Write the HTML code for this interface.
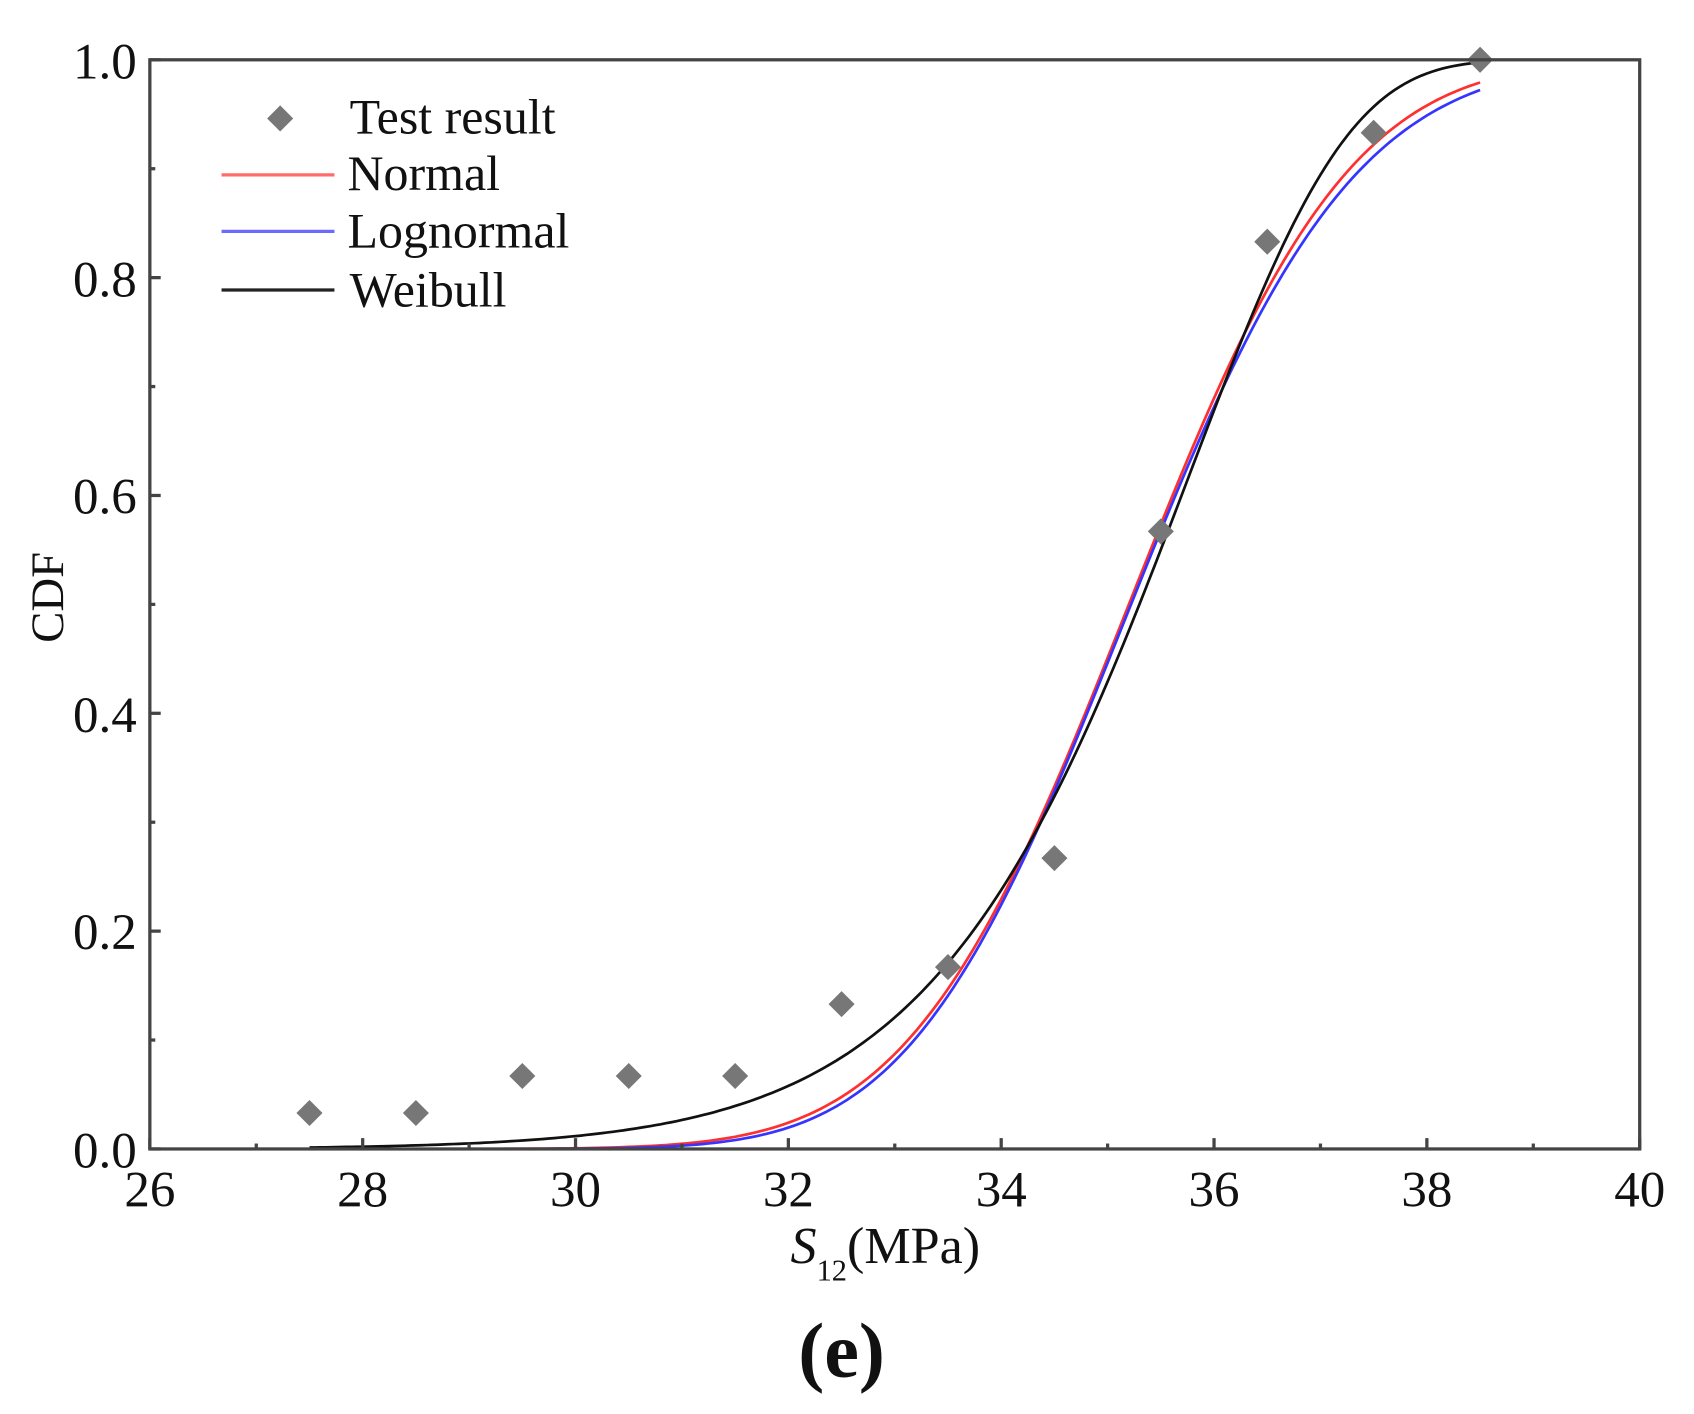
<!DOCTYPE html>
<html><head><meta charset="utf-8"><style>
html,body{margin:0;padding:0;background:#fff;}
svg{display:block;}
text{font-family:"Liberation Serif",serif;fill:#111;}
</style></head><body>
<svg id="s" width="1694" height="1414" viewBox="0 0 1560 1302" xmlns="http://www.w3.org/2000/svg">
<g id="curves"></g>
<g id="pts"></g>
<rect x="138" y="55" width="1372" height="1003" fill="none" stroke="#444" stroke-width="3"/>
<g id="ticks" stroke="#444" stroke-width="3"></g>
<g font-size="47" text-anchor="end">
<text x="126" y="72">1.0</text><text x="126" y="273">0.8</text><text x="126" y="473">0.6</text>
<text x="126" y="674">0.4</text><text x="126" y="874">0.2</text><text x="126" y="1075">0.0</text>
</g>
<g font-size="47" text-anchor="middle">
<text x="138" y="1111">26</text><text x="334" y="1111">28</text><text x="530" y="1111">30</text>
<text x="726" y="1111">32</text><text x="922" y="1111">34</text><text x="1118" y="1111">36</text>
<text x="1314" y="1111">38</text><text x="1510" y="1111">40</text>
</g>
<text x="58" y="550" font-size="43" text-anchor="middle" transform="rotate(-90 58 550)">CDF</text>
<text x="728" y="1163" font-size="48"><tspan font-style="italic">S</tspan><tspan font-size="28" dy="16">12</tspan><tspan dy="-16">(MPa)</tspan></text>
<text x="775" y="1268" font-size="72" font-weight="bold" text-anchor="middle">(e)</text>
<path d="M258 97 L270 109 L258 121 L246 109Z" fill="#777"/>
<text x="322" y="123" font-size="46">Test result</text>
<line x1="204" y1="161" x2="308" y2="161" stroke="#ff6a6a" stroke-width="3"/>
<text x="320" y="175" font-size="46">Normal</text>
<line x1="204" y1="213" x2="308" y2="213" stroke="#6a6aff" stroke-width="3"/>
<text x="320" y="228" font-size="46">Lognormal</text>
<line x1="204" y1="267" x2="308" y2="267" stroke="#222" stroke-width="3"/>
<text x="322" y="282" font-size="46">Weibull</text>
</svg>
<script>
var X=function(v){return 138+(v-26)*98;},Y=function(p){return 1058-p*1003;};
function erf(x){var s=x<0?-1:1;x=Math.abs(x);var t=1/(1+0.3275911*x);var y=1-((((1.061405429*t-1.453152027)*t+1.421413741)*t-0.284496736)*t+0.254829592)*t*Math.exp(-x*x);return s*y;}
function ncdf(z){return 0.5*(1+erf(z/Math.SQRT2));}
var fns=[[function(x){return ncdf((x-35.2)/1.62);},"#ff3030"],
[function(x){return ncdf((Math.log(x)-Math.log(35.22))/0.0465);},"#3535ff"],
[function(x){return 1-Math.exp(-Math.pow(x/35.82,25));},"#111"]];
var g=document.getElementById("curves"),h="";
fns.forEach(function(f){var d="";for(var x=27.5;x<=38.5001;x+=0.05){d+=(d?"L":"M")+X(x).toFixed(1)+" "+Y(f[0](x)).toFixed(1);}
h+='<path d="'+d+'" fill="none" stroke="'+f[1]+'" stroke-width="2.5"/>';});
g.innerHTML=h;
var ys=[0.033,0.033,0.067,0.067,0.067,0.133,0.167,0.267,0.567,0.833,0.933,1.0],p="";
ys.forEach(function(v,i){var cx=X(27.5+i),cy=Y(v);p+='<path d="M'+cx+' '+(cy-12)+' L'+(cx+12)+' '+cy+' L'+cx+' '+(cy+12)+' L'+(cx-12)+' '+cy+'Z" fill="#777"/>';});
document.getElementById("pts").innerHTML=p;
var t="";
for(var i=0;i<=14;i++){var x=X(26+i),l=i%2==0?10:5;t+='<line x1="'+x+'" y1="1058" x2="'+x+'" y2="'+(1058-l)+'"/>';}
for(var j=0;j<=10;j++){var y=Y(j/10),l=j%2==0?10:5;t+='<line x1="138" y1="'+y+'" x2="'+(138+l)+'" y2="'+y+'"/>';}
document.getElementById("ticks").innerHTML=t;
</script>
</body></html>
